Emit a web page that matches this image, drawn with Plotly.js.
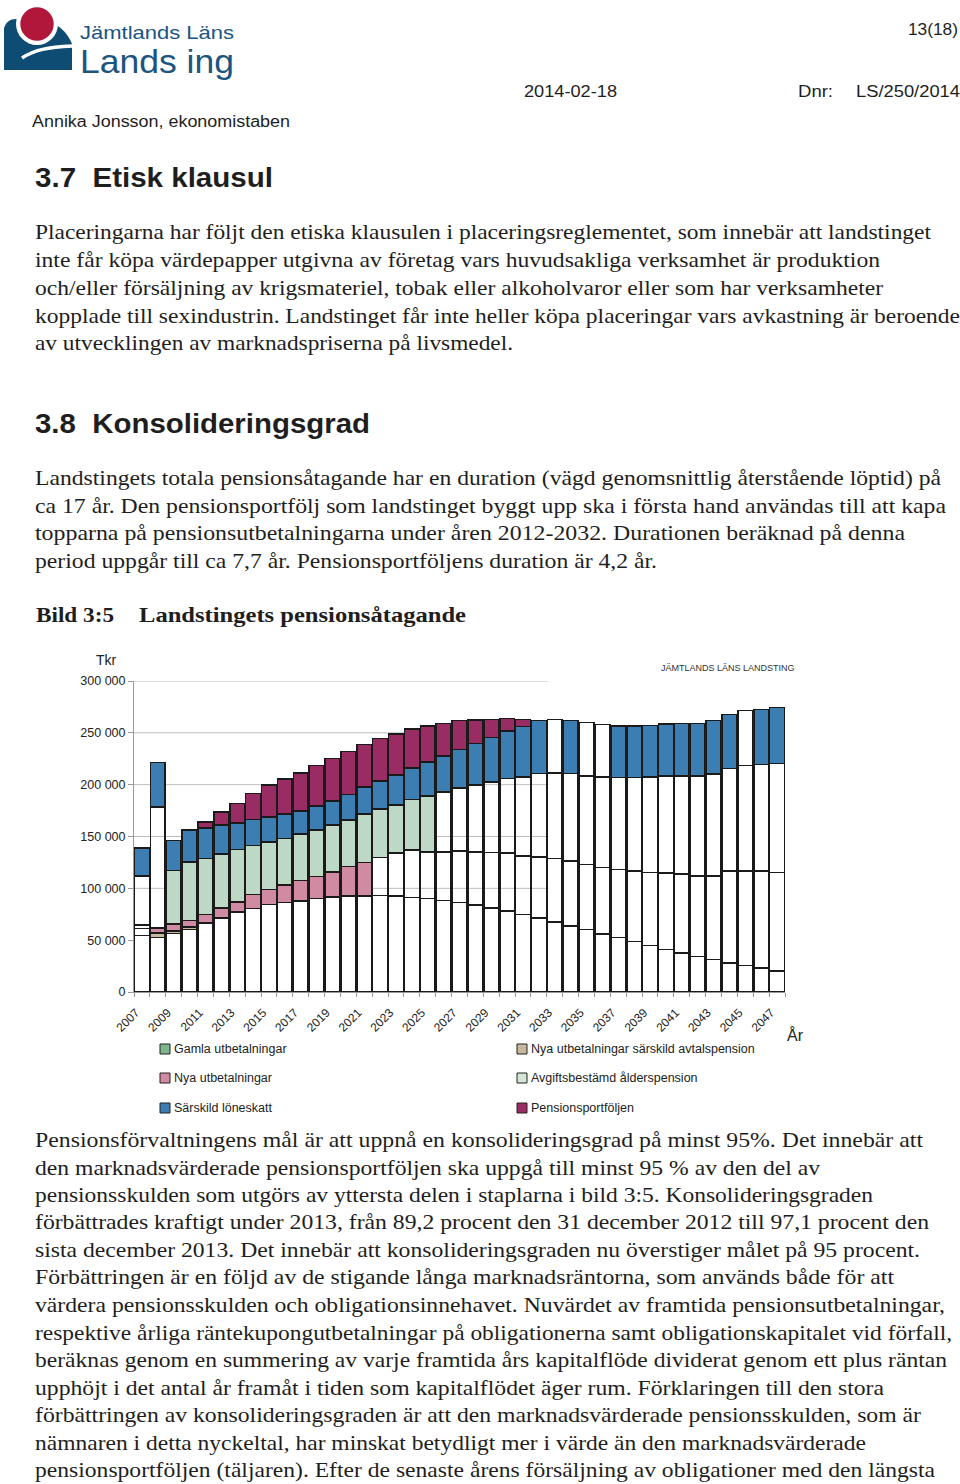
<!DOCTYPE html>
<html>
<head>
<meta charset="utf-8">
<script src="https://cdn.plot.ly/plotly-3.0.1.min.js"></script>
<style>
  html, body { margin:0; padding:0; background:#fff; }
  body { width:960px; height:1484px; position:relative; overflow:hidden; }
  .t { position:absolute; white-space:nowrap; transform-origin:0 50%; color:#1e1e1e; }
  .serif { font-family:"Liberation Serif","Times New Roman",serif; font-size:22px; line-height:28px; height:28px; }
  .sans { font-family:"Liberation Sans",Arial,sans-serif; font-size:16px; line-height:22px; height:22px; }
  .h { font-family:"Liberation Sans",Arial,sans-serif; font-weight:bold; font-size:27px; line-height:34px; height:34px; }
  .cap { font-family:"Liberation Serif","Times New Roman",serif; font-weight:bold; font-size:22px; line-height:28px; height:28px; }
  .logo1 { font-family:"Liberation Sans",Arial,sans-serif; color:#1b5480; font-size:19px; line-height:19px; height:19px; }
  .logo2 { font-family:"Liberation Sans",Arial,sans-serif; color:#1b5480; font-size:33px; line-height:33px; height:33px; }
  #chart { position:absolute; left:0; top:640px; width:960px; height:490px; }
</style>
</head>
<body>
<svg style="position:absolute;left:0;top:0" width="80" height="80" viewBox="0 0 80 80">
  <path d="M4,70 L4,28 C6,22 10,19 16,19 L58,26 C64,30 70,38 72,44 L72,70 Z" fill="#0f4c73"/>
  <path d="M22,58 C34,50 48,47 72,46" stroke="#fff" stroke-width="3.5" fill="none"/>
  <circle cx="37" cy="24" r="21" fill="#fff"/>
  <circle cx="37" cy="24" r="16.7" fill="#b0173a"/>
</svg>
<div class="t logo1" data-x="80" data-y="32.4" data-w="154">Jämtlands Läns</div>
<div class="t logo2" data-x="80" data-y="61.6" data-w="154">Lands ing</div>

<div class="t sans" data-x="908" data-y="30" data-w="50">13(18)</div>
<div class="t sans" data-x="524" data-y="92" data-w="93">2014-02-18</div>
<div class="t sans" data-x="798" data-y="92" data-w="35">Dnr:</div>
<div class="t sans" data-x="856" data-y="92" data-w="104">LS/250/2014</div>
<div class="t sans" data-x="32" data-y="122" data-w="258">Annika Jonsson, ekonomistaben</div>

<div class="t h" data-x="35" data-y="178" data-w="238">3.7&nbsp;&nbsp;Etisk klausul</div>

<div class="t serif" data-x="35" data-y="232" data-w="896">Placeringarna har följt den etiska klausulen i placeringsreglementet, som innebär att landstinget</div>
<div class="t serif" data-x="35" data-y="260" data-w="845">inte får köpa värdepapper utgivna av företag vars huvudsakliga verksamhet är produktion</div>
<div class="t serif" data-x="35" data-y="288" data-w="848">och/eller försäljning av krigsmateriel, tobak eller alkoholvaror eller som har verksamheter</div>
<div class="t serif" data-x="35" data-y="316" data-w="925">kopplade till sexindustrin. Landstinget får inte heller köpa placeringar vars avkastning är beroende</div>
<div class="t serif" data-x="35" data-y="343" data-w="478">av utvecklingen av marknadspriserna på livsmedel.</div>

<div class="t h" data-x="35" data-y="424" data-w="335">3.8&nbsp;&nbsp;Konsolideringsgrad</div>

<div class="t serif" data-x="35" data-y="478" data-w="906">Landstingets totala pensionsåtagande har en duration (vägd genomsnittlig återstående löptid) på</div>
<div class="t serif" data-x="35" data-y="506" data-w="911">ca 17 år. Den pensionsportfölj som landstinget byggt upp ska i första hand användas till att kapa</div>
<div class="t serif" data-x="35" data-y="533" data-w="870">topparna på pensionsutbetalningarna under åren 2012-2032. Durationen beräknad på denna</div>
<div class="t serif" data-x="35" data-y="561" data-w="622">period uppgår till ca 7,7 år. Pensionsportföljens duration är 4,2 år.</div>

<div class="t cap" data-x="36" data-y="615" data-w="78">Bild 3:5</div>
<div class="t cap" data-x="139" data-y="615" data-w="327">Landstingets pensionsåtagande</div>

<div id="chart"></div>

<div class="t serif" data-x="35" data-y="1140" data-w="888">Pensionsförvaltningens mål är att uppnå en konsolideringsgrad på minst 95%. Det innebär att</div>
<div class="t serif" data-x="35" data-y="1168" data-w="785">den marknadsvärderade pensionsportföljen ska uppgå till minst 95 % av den del av</div>
<div class="t serif" data-x="35" data-y="1195" data-w="838">pensionsskulden som utgörs av yttersta delen i staplarna i bild 3:5. Konsolideringsgraden</div>
<div class="t serif" data-x="35" data-y="1222" data-w="894">förbättrades kraftigt under 2013, från 89,2 procent den 31 december 2012 till 97,1 procent den</div>
<div class="t serif" data-x="35" data-y="1250" data-w="885">sista december 2013. Det innebär att konsolideringsgraden nu överstiger målet på 95 procent.</div>
<div class="t serif" data-x="35" data-y="1277" data-w="859">Förbättringen är en följd av de stigande långa marknadsräntorna, som används både för att</div>
<div class="t serif" data-x="35" data-y="1305" data-w="910">värdera pensionsskulden och obligationsinnehavet. Nuvärdet av framtida pensionsutbetalningar,</div>
<div class="t serif" data-x="35" data-y="1333" data-w="917">respektive årliga räntekupongutbetalningar på obligationerna samt obligationskapitalet vid förfall,</div>
<div class="t serif" data-x="35" data-y="1360" data-w="912">beräknas genom en summering av varje framtida års kapitalflöde dividerat genom ett plus räntan</div>
<div class="t serif" data-x="35" data-y="1388" data-w="849">upphöjt i det antal år framåt i tiden som kapitalflödet äger rum. Förklaringen till den stora</div>
<div class="t serif" data-x="35" data-y="1415" data-w="886">förbättringen av konsolideringsgraden är att den marknadsvärderade pensionsskulden, som är</div>
<div class="t serif" data-x="35" data-y="1443" data-w="831">nämnaren i detta nyckeltal, har minskat betydligt mer i värde än den marknadsvärderade</div>
<div class="t serif" data-x="35" data-y="1470" data-w="900">pensionsportföljen (täljaren). Efter de senaste årens försäljning av obligationer med den längsta</div>

<script>
// ---------- DATA (Tkr) ----------
const years = [2007,2008,2009,2010,2011,2012,2013,2014,2015,2016,2017,2018,2019,2020,2021,2022,2023,2024,2025,2026,2027,
               2028,2029,2030,2031,2032,2033,2034,2035,2036,2037,2038,2039,2040,2041,2042,2043,2044,2045,2046,2047];
const tickYears = [2007,2009,2011,2013,2015,2017,2019,2021,2023,2025,2027,2029,2031,2033,2035,2037,2039,2041,2043,2045,2047];
const yTicks = [50000,100000,150000,200000,250000,300000];

const gamlaUtbetalningar = [54700,52500,56500,60200,66000,71500,77300,80500,84300,86300,88000,90100,91700,92400,92600,93300,92400,91100,90100,88500,86300,
                            83700,81100,77900,74700,71500,67600,63700,60200,56000,52500,48900,45100,41200,37700,34400,31200,28000,25800,23200,20300];
const nyaSarskildAvtalspension = [6500,4500,2500,2500,500,null,null,null,null,null,null,null,null,null,null,null,null,null,null,null,null,
                                  null,null,null,null,null,null,null,null,null,null,null,null,null,null,null,null,null,null,null,null];
const nyaUtbetalningar = [3500,4800,6400,6500,8500,9600,9600,13700,14800,16700,19800,21400,24300,28600,32400,36400,41800,45700,45100,46700,49500,
                          51500,53500,56300,56600,58900,61200,62800,62800,64000,65600,68000,70100,73400,75900,77600,80800,88500,91100,93300,94900];
const avgiftsbestamd = [47000,116900,51600,56000,54000,51900,50600,47300,45800,45000,44500,44600,45300,44800,46600,46700,46100,48900,54100,57900,61200,
                        64400,68200,71800,76300,80400,82700,84300,85600,87600,88900,90100,92100,93700,94700,96300,98200,99200,101400,103000,105300];
const sarskildLoneskatt = [27300,42800,29000,31000,29400,28000,25700,25100,24100,23600,22500,23400,23000,24700,26100,27000,28900,30600,32800,34500,37000,
                           40200,42500,45700,48300,50900,51500,50900,51200,50600,49500,49500,49900,50200,50800,50800,51500,52100,53100,53100,53800];
const pensionsportfoljen = [null,null,null,null,5500,12500,18700,24900,30600,33800,36700,39200,41000,41300,41100,41200,39600,37400,34400,31500,27700,
                            22500,17700,12300,7100,null,null,null,null,null,null,null,null,null,null,null,null,null,null,null,null];

const legendNames = ["Gamla utbetalningar","Nya utbetalningar särskild avtalspension","Nya utbetalningar",
                     "Avgiftsbestämd ålderspension","Särskild löneskatt","Pensionsportföljen"];

// ---------- STYLE ----------
const NONE = 'rgba(0,0,0,0)';
const C = { tan:'#c8b89d', pink:'#d08aa2', green:'#bdd9c5', blue:'#3c7db2', maroon:'#992c62' };
const legendColors = ['#7db58d', C.tan, C.pink, '#d3e6d8', C.blue, C.maroon];
const inRange = (a,b) => years.map(y => (y >= a && y <= b));
const unfilledBlue = [2033, 2035, 2036, 2045];

const lineStyle = { color:'#1a1a1a', width:1.5 };
function bar(name, vals, colors) {
  return { type:'bar', x:years, y:vals, name:name, showlegend:false, hoverinfo:'skip',
           marker:{ color:colors, line:lineStyle } };
}
const traces = [
  bar(legendNames[0], gamlaUtbetalningar, years.map(() => '#ffffff')),
  bar(legendNames[1], nyaSarskildAvtalspension, inRange(2008,2011).map(f => f ? C.tan : NONE)),
  bar(legendNames[2], nyaUtbetalningar, inRange(2008,2021).map(f => f ? C.pink : NONE)),
  bar(legendNames[3], avgiftsbestamd, inRange(2009,2025).map(f => f ? C.green : NONE)),
  bar(legendNames[4], sarskildLoneskatt, years.map(y => unfilledBlue.includes(y) ? NONE : C.blue)),
  bar(legendNames[5], pensionsportfoljen, years.map(() => C.maroon))
];

// pixel -> paper helpers (plot area: x 134..785, y 681..992 in page; div top 640)
const PL = 134, PR = 785, PT = 681, PB = 992;
const px = v => (v - PL) / (PR - PL);
const py = v => (PB - v) / (PB - PT);

const shapes = yTicks.map(v => ({ type:'line', layer:'below', xref:'x', yref:'y',
  x0:2006.5, x1:2032.6, y0:v, y1:v, line:{ color:'#bdbdbd', width:1 } }));

const ann = (text, x, y, size, color, xanchor) => ({ text:text, xref:'paper', yref:'paper', x:px(x), y:py(y),
  xanchor:xanchor || 'center', yanchor:'middle', showarrow:false, font:{ size:size, color:color || '#222' } });
const annotations = [
  ann('Tkr', 106, 660, 14),
  ann('JÄMTLANDS LÄNS LANDSTING', 728, 668, 9, '#333'),
  ann('År', 796, 1035, 16)
];
const legendPos = [[160,1049],[517,1049],[160,1078],[517,1078],[160,1108],[517,1108]];
legendNames.forEach((n,i) => {
  const [lx, ly] = legendPos[i];
  shapes.push({ type:'rect', xref:'paper', yref:'paper', x0:px(lx), x1:px(lx+10), y0:py(ly+5), y1:py(ly-5),
                fillcolor:legendColors[i], line:{color:'#222', width:1} });
  annotations.push(ann(n, lx+12, ly, 12.5, '#222', 'left'));
});

const layout = {
  width:960, height:490,
  margin:{ l:PL, r:960-PR, t:PT-640, b:640+490-PB },
  paper_bgcolor:'rgba(0,0,0,0)', plot_bgcolor:'rgba(0,0,0,0)',
  font:{ family:'"Liberation Sans", Arial, sans-serif', color:'#222' },
  separators:', ',
  barmode:'stack', bargap:0.07,
  xaxis:{ type:'linear', range:[2006.5, 2047.5], tickmode:'array', tickvals:tickYears, tickangle:-45,
          ticks:'', showgrid:false, zeroline:false, showline:true, linecolor:'#999', linewidth:1,
          ticklabelstandoff:8, ticklabelshift:-6,
          tickfont:{ size:12, color:'#222' },
          minor:{ tickmode:'linear', tick0:2006.5, dtick:1, ticks:'outside', ticklen:4, tickcolor:'#999', showgrid:false } },
  yaxis:{ range:[0,300000], tickmode:'linear', tick0:0, dtick:50000, tickformat:',d',
          ticks:'outside', ticklen:5, tickcolor:'#999', showgrid:false, zeroline:false,
          showline:true, linecolor:'#999', linewidth:1, tickfont:{ size:12.5, color:'#222' } },
  shapes:shapes, annotations:annotations, showlegend:false
};

Plotly.newPlot('chart', traces, layout, { staticPlot:true, displayModeBar:false });

// ---------- page text fitting ----------
document.querySelectorAll('.t').forEach(el => {
  const x = +el.dataset.x, y = +el.dataset.y, w = +el.dataset.w;
  const h = parseFloat(getComputedStyle(el).height);
  el.style.left = x + 'px';
  el.style.top = (y - h/2) + 'px';
  const actual = el.getBoundingClientRect().width;
  if (actual > 0) el.style.transform = 'scaleX(' + (w/actual) + ')';
});
</script>
</body>
</html>
